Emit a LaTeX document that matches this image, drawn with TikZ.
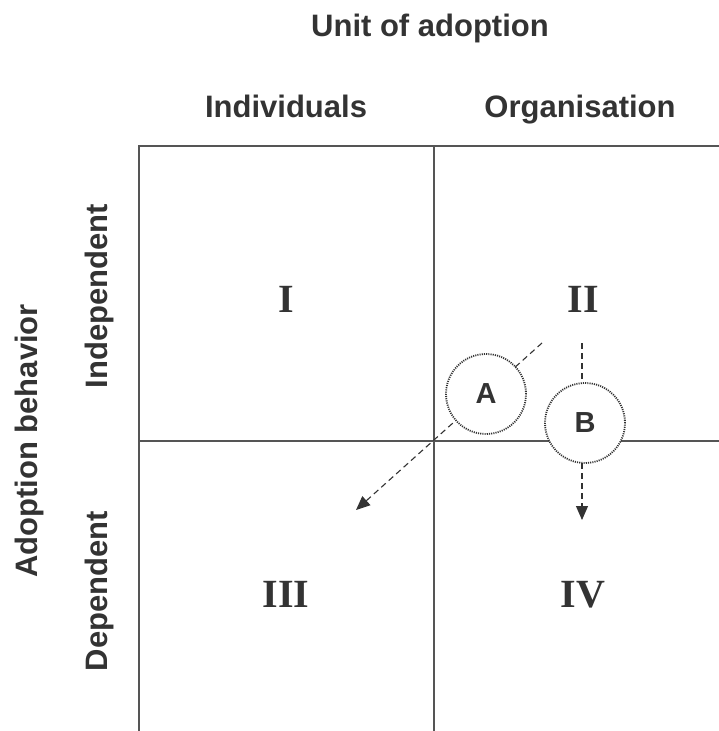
\documentclass[tikz,border=0pt]{standalone}
\usepackage{fontspec}
\setmainfont{Liberation Serif}
\setsansfont{Liberation Sans}
\usetikzlibrary{arrows.meta}
\definecolor{inkgray}{HTML}{333333}
\definecolor{linegray}{HTML}{555555}
\begin{document}
\begin{tikzpicture}[x=1pt,y=-1pt,
  axislabel/.style={font=\sffamily\bfseries\fontsize{31}{37}\selectfont,text=inkgray,inner sep=0pt},
  quadlabel/.style={font=\rmfamily\bfseries\fontsize{40}{48}\selectfont,text=inkgray,inner sep=0pt,anchor=base},
  gridline/.style={draw=linegray,line width=1.3pt},
  moveline/.style={draw=inkgray,line width=1.1pt,dash pattern=on 6pt off 4pt,-{Triangle[length=14pt,width=12pt]}},
  firm/.style={circle,minimum size=80pt,inner sep=0pt,fill=white,draw=inkgray,line width=1.8pt,
    dash pattern=on 1.1pt off 1.1pt,font=\sffamily\bfseries\fontsize{29}{35}\selectfont,text=inkgray}]
\useasboundingbox (0,0) rectangle (719,731);

% grid corners
\coordinate (tl) at (139,146);
\coordinate (tm) at (434,146);
\coordinate (tr) at (719,146);
\coordinate (ml) at (139,441);
\coordinate (mr) at (719,441);
\coordinate (bl) at (139,731);
\coordinate (bm) at (434,731);

% quadrant grid
\draw[gridline] (tr) -- (tl) -- (bl);
\draw[gridline] (tm) -- (bm);
\draw[gridline] (ml) -- (mr);

% headings
\node[axislabel,anchor=base] (unit) at (430,36) {Unit of adoption};
\node[axislabel,anchor=base] (indiv) at (286,117) {Individuals};
\node[axislabel,anchor=base] (org) at (580,117) {Organisation};
\node[axislabel,anchor=base,rotate=90] (indep) at (107,296) {Independent};
\node[axislabel,anchor=base,rotate=90] (dep) at (107,591) {Dependent};
\node[axislabel,anchor=base,rotate=90] (behav) at (37,441) {Adoption behavior};

% quadrant numerals
\node[quadlabel] (q1) at (286,312) {I};
\node[quadlabel] (q2) at (583,312) {II};
\node[quadlabel] (q3) at (286,607) {III};
\node[quadlabel] (q4) at (583,607) {IV};

% migration paths
\coordinate (astart) at (542,343);
\coordinate (aend) at (356,510);
\coordinate (bstart) at (582,343);
\coordinate (bend) at (582,520);
\draw[moveline] (astart) -- (aend);
\draw[moveline] (bstart) -- (bend);

% the two cases
\node[firm] (A) at (486,394) {A};
\node[firm] (B) at (585,423) {B};
\end{tikzpicture}
\end{document}
